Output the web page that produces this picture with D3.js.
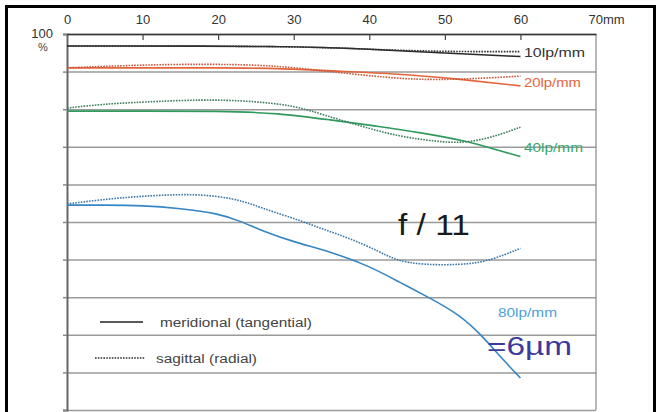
<!DOCTYPE html>
<html>
<head>
<meta charset="utf-8">
<script src="https://cdn.jsdelivr.net/npm/d3@7"></script>
<style>
  body { margin: 0; background: #fff; }
  svg { display: block; font-family: "Liberation Sans", Arial, sans-serif; }
</style>
</head>
<body>
<svg width="659" height="412"></svg>
<script>
// image height in mm, contrast in %
const xTicks = [0, 10, 20, 30, 40, 50, 60, 70];
const yTicks = [0, 10, 20, 30, 40, 50, 60, 70, 80, 90, 100];

const lp10Mer = [[0, 96.8], [30, 96.8], [40, 96.0], [50, 94.9], [60, 94.0]];
const lp10Sag = [[0, 96.8], [30, 96.8], [40, 95.9], [50, 95.3], [60, 95.3]];
const lp20Mer = [[0, 91.0], [10, 91.0], [20, 91.0], [28, 90.9], [35, 90.2], [44, 89.4], [52, 88.0], [60, 86.2]];
const lp20Sag = [[0, 91.0], [10, 91.8], [18, 92.0], [25, 91.8], [30, 91.1], [37, 89.5], [44, 88.1], [49, 87.8], [55, 88.2], [60, 88.8]];
const lp40Mer = [[0, 79.5], [10, 79.5], [20, 79.5], [28, 79.0], [35, 77.1], [41, 75.5], [47, 73.7], [53, 71.5], [57, 69.1], [60, 67.4]];
const lp40Sag = [[0, 80.3], [5, 81.4], [10, 81.9], [18, 82.6], [24, 82.2], [28, 81.4], [30.5, 80.6], [34, 78.5], [39, 75.4], [44, 72.7], [49, 71.4], [52, 71.0], [55, 71.9], [57.5, 73.4], [60, 75.2]];
const lp80Mer = [[0, 54.5], [5, 54.5], [10, 54.4], [15, 53.6], [20, 52.3], [23, 50.2], [26, 47.5], [30, 44.7], [35, 42.0], [40, 38.3], [44, 34.0], [48, 29.8], [52, 25.3], [55, 19.6], [57.5, 13.8], [60, 8.5]];
const lp80Sag = [[0, 54.8], [4.4, 55.9], [8.7, 56.7], [13, 57.2], [17.5, 57.4], [22, 56.3], [24.6, 54.6], [27.3, 52.7], [31, 50.3], [34, 48.0], [37.5, 45.6], [41.4, 42.1], [43.5, 39.8], [47, 38.6], [52, 38.6], [55.6, 39.4], [60, 43.0]];

const series = [
  { name: "10lp/mm", mer: lp10Mer, sag: lp10Sag, color: "#2a2a2a", sagColor: "#333" },
  { name: "20lp/mm", mer: lp20Mer, sag: lp20Sag, color: "#e4643c", sagColor: "#c9583a" },
  { name: "40lp/mm", mer: lp40Mer, sag: lp40Sag, color: "#2f9a5c", sagColor: "#3f7d5e" },
  { name: "80lp/mm", mer: lp80Mer, sag: lp80Sag, color: "#3586c4", sagColor: "#3c77a8" }
];

var svg = d3.select("svg"),
    width = +svg.attr("width"),
    height = +svg.attr("height");

var x = d3.scaleLinear().domain([0, 70]).range([67, 596]);
var y = d3.scaleLinear().domain([0, 100]).range([410, 34]);

svg.append("rect")
    .attr("x", 6.5).attr("y", 6.5)
    .attr("width", 648).attr("height", 412)
    .attr("fill", "none").attr("stroke", "#000").attr("stroke-width", 3);

// horizontal grid
var grid = svg.append("g")
    .attr("transform", `translate(${x(0)},0)`)
    .call(d3.axisLeft(y).tickValues(yTicks).tickSize(-(x(70) - x(0))).tickFormat(""));
grid.select(".domain").remove();
grid.selectAll(".tick line").attr("stroke", "#9a9a9a").attr("stroke-width", 1.5);

// small left ticks
var yAxis = svg.append("g")
    .attr("transform", `translate(${x(0)},0)`)
    .call(d3.axisLeft(y).tickValues(yTicks).tickSize(4).tickFormat(""));
yAxis.select(".domain").attr("stroke", "#666").attr("stroke-width", 2);
yAxis.selectAll(".tick line").attr("stroke", "#888").attr("stroke-width", 1.5);

// right border
svg.append("line")
    .attr("x1", x(70)).attr("x2", x(70))
    .attr("y1", y(100)).attr("y2", y(0))
    .attr("stroke", "#888").attr("stroke-width", 1.2);

// top axis
var xAxis = svg.append("g")
    .attr("transform", `translate(0,${y(100)})`)
    .call(d3.axisTop(x).tickValues(xTicks).tickSizeInner(-6).tickSizeOuter(0).tickPadding(10)
      .tickFormat(d => d === 70 ? "70mm" : d));
xAxis.select(".domain").attr("stroke", "#333").attr("stroke-width", 1.5);
xAxis.selectAll(".tick line").attr("stroke", "#444").attr("stroke-width", 1.2)
    .filter(d => d === 0 || d === 70).remove();
xAxis.selectAll(".tick text")
    .attr("fill", "#333").attr("font-size", 13)
    .filter(d => d === 70).attr("text-anchor", "start").attr("dx", -8);

svg.append("text").attr("x", 53).attr("y", 38).attr("text-anchor", "end")
    .attr("font-size", 13).attr("fill", "#333").text("100");
svg.append("text").attr("x", 43).attr("y", 51).attr("text-anchor", "middle")
    .attr("font-size", 11).attr("fill", "#444").text("%");

var line = d3.line()
    .x(d => x(d[0]))
    .y(d => y(d[1]))
    .curve(d3.curveBasis);

var curves = svg.append("g").attr("fill", "none");
series.forEach(s => {
  curves.append("path").datum(s.mer)
      .attr("d", line)
      .attr("stroke", s.color).attr("stroke-width", 1.6);
  curves.append("path").datum(s.sag)
      .attr("d", line)
      .attr("stroke", s.sagColor).attr("stroke-width", 1.6)
      .attr("stroke-dasharray", "1.6,1.2");
});

// curve labels
const labels = [
  { t: "10lp/mm", x: 524, y: 57, c: "#333", w: 61, fs: 13 },
  { t: "20lp/mm", x: 524, y: 87, c: "#e4643c", w: 57, fs: 13 },
  { t: "40lp/mm", x: 524, y: 152, c: "#3aa56a", w: 59, fs: 13 },
  { t: "80lp/mm", x: 498, y: 317, c: "#4f9fd8", w: 59, fs: 12 }
];
labels.forEach(l => {
  svg.append("text").attr("x", l.x).attr("y", l.y)
      .attr("font-size", l.fs).attr("fill", l.c)
      .attr("textLength", l.w).attr("lengthAdjust", "spacingAndGlyphs")
      .text(l.t);
});

svg.append("text").attr("x", 398).attr("y", 235)
    .attr("font-size", 30).attr("fill", "#1a1a1a")
    .attr("textLength", 72).attr("lengthAdjust", "spacingAndGlyphs")
    .text("f / 11");

svg.append("text").attr("x", 487).attr("y", 355)
    .attr("font-size", 25).attr("fill", "#3c3a9c")
    .attr("textLength", 85).attr("lengthAdjust", "spacingAndGlyphs")
    .text("=6µm");

// legend
svg.append("line").attr("x1", 100).attr("x2", 143).attr("y1", 322).attr("y2", 322)
    .attr("stroke", "#222").attr("stroke-width", 1.6);
svg.append("text").attr("x", 160).attr("y", 327)
    .attr("font-size", 12.5).attr("fill", "#444")
    .attr("textLength", 152).attr("lengthAdjust", "spacingAndGlyphs")
    .text("meridional (tangential)");
svg.append("line").attr("x1", 95).attr("x2", 145).attr("y1", 358).attr("y2", 358)
    .attr("stroke", "#333").attr("stroke-width", 1.5).attr("stroke-dasharray", "1.6,1.2");
svg.append("text").attr("x", 156).attr("y", 363)
    .attr("font-size", 12.5).attr("fill", "#444")
    .attr("textLength", 101).attr("lengthAdjust", "spacingAndGlyphs")
    .text("sagittal (radial)");
</script>
</body>
</html>
